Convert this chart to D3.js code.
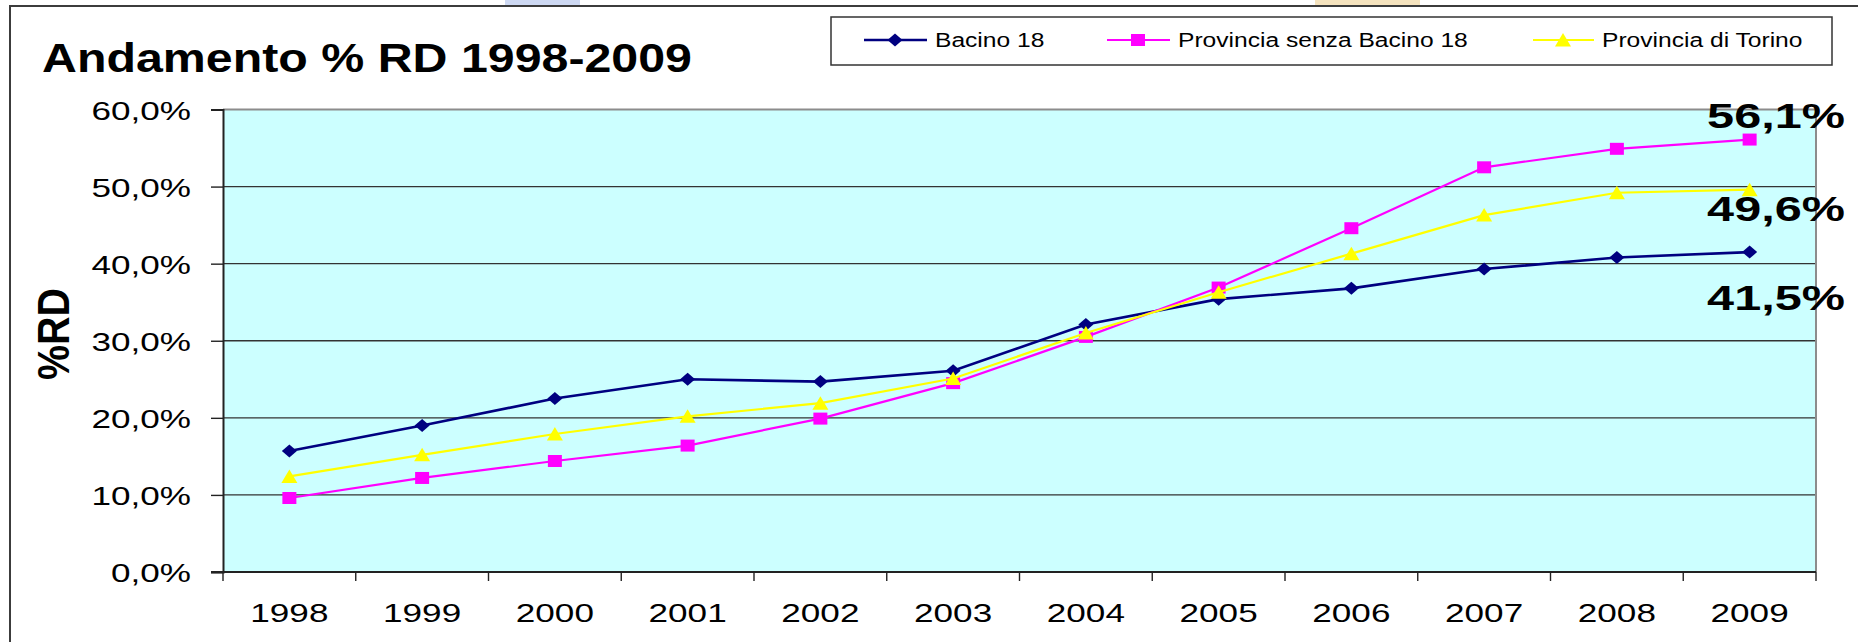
<!DOCTYPE html>
<html>
<head>
<meta charset="utf-8">
<script src="https://cdn.jsdelivr.net/npm/d3@7"></script>
<style>
  html, body { margin: 0; padding: 0; background: #ffffff; }
  svg { display: block; font-family: "Liberation Sans", Arial, sans-serif; }
</style>
</head>
<body>
<svg id="chart" width="1858" height="642"></svg>
<script>
// Percentuale di raccolta differenziata, 1998-2009
const years = ["1998","1999","2000","2001","2002","2003","2004","2005","2006","2007","2008","2009"];
const bacino18 = [15.7, 19.0, 22.5, 25.0, 24.7, 26.1, 32.1, 35.4, 36.8, 39.3, 40.8, 41.5];
const provSenzaBacino = [9.6, 12.2, 14.4, 16.4, 19.9, 24.5, 30.5, 36.9, 44.6, 52.5, 54.9, 56.1];
const provTorino = [12.4, 15.2, 17.9, 20.2, 21.9, 25.1, 31.0, 36.3, 41.3, 46.3, 49.2, 49.6];
const seriesNames = ["Bacino 18", "Provincia senza Bacino 18", "Provincia di Torino"];
const yTicks = [0, 10, 20, 30, 40, 50, 60];
const titleText = "Andamento % RD 1998-2009";
const yAxisTitle = "%RD";

const itFmt = d3.formatLocale({ decimal: ",", thousands: ".", grouping: [3], currency: ["€", ""] }).format(".1f");
const pct = v => itFmt(v) + "%";

const svg = d3.select("#chart");
const X_STRETCH = 1.35;

// plot geometry
const plotLeft = 223, plotRight = 1816, plotTop = 109.5, plotBottom = 572;

const x = d3.scaleBand().domain(years).range([plotLeft, plotRight]).padding(0);
const y = d3.scaleLinear().domain([0, 60]).range([plotBottom, plotTop]);
const cx = d => x(d) + x.bandwidth() / 2;

// decorative header strips
svg.append("rect").attr("x", 505).attr("y", 0).attr("width", 75).attr("height", 5)
  .attr("fill", "#b9c9ee").attr("opacity", 0.7);
svg.append("rect").attr("x", 1315).attr("y", 0).attr("width", 105).attr("height", 5)
  .attr("fill", "#f1d7a3").attr("opacity", 0.7);

// chart frame
svg.append("rect").attr("x", 10).attr("y", 6).attr("width", 1900).attr("height", 700)
  .attr("fill", "none").attr("stroke", "#3c3c3c").attr("stroke-width", 2);

// title
svg.append("text").attr("x", 42).attr("y", 72)
  .attr("font-size", 40).attr("font-weight", "bold").attr("fill", "#000")
  .attr("textLength", 650).attr("lengthAdjust", "spacingAndGlyphs")
  .text(titleText);

// plot background
svg.append("rect").attr("x", plotLeft).attr("y", plotTop)
  .attr("width", plotRight - plotLeft).attr("height", plotBottom - plotTop)
  .attr("fill", "#CCFFFF");

// gridlines
svg.append("g").selectAll("line")
  .data(yTicks.filter(t => t > 0 && t < 60))
  .join("line")
  .attr("x1", plotLeft).attr("x2", plotRight)
  .attr("y1", d => y(d)).attr("y2", d => y(d))
  .attr("stroke", "#333").attr("stroke-width", 1.4);

// top and right border of the plot area
svg.append("path")
  .attr("d", `M${plotLeft},${y(60)}H${plotRight}V${plotBottom}`)
  .attr("fill", "none").attr("stroke", "#8c8c8c").attr("stroke-width", 2);

// y axis
const yAxis = svg.append("g").attr("transform", `translate(${plotLeft},0)`)
  .call(d3.axisLeft(y).tickValues(yTicks).tickSize(12).tickFormat(pct));
yAxis.select(".domain").attr("stroke", "#222").attr("stroke-width", 2);
yAxis.selectAll(".tick line").attr("stroke", "#222").attr("stroke-width", 1.4);
yAxis.selectAll(".tick text")
  .attr("x", null).attr("dy", null)
  .attr("transform", `translate(-32,9.5) scale(${X_STRETCH},1)`)
  .attr("text-anchor", "end")
  .attr("font-size", 26).attr("fill", "#000")
  .attr("font-family", "'Liberation Sans', Arial, sans-serif");

// x axis
const xAxis = svg.append("g").attr("transform", `translate(0,${plotBottom})`)
  .call(d3.axisBottom(x).tickSize(0));
xAxis.select(".domain").remove();
xAxis.selectAll(".tick text")
  .attr("y", null).attr("dy", null)
  .attr("transform", `translate(0,50) scale(${X_STRETCH},1)`)
  .attr("font-size", 26).attr("fill", "#000")
  .attr("font-family", "'Liberation Sans', Arial, sans-serif");
svg.append("line").attr("x1", plotLeft - 12).attr("x2", plotRight)
  .attr("y1", plotBottom).attr("y2", plotBottom)
  .attr("stroke", "#222").attr("stroke-width", 2);
// category boundary ticks
const bounds = years.map(d => x(d)).concat([x(years[years.length - 1]) + x.bandwidth()]);
svg.append("g").selectAll("line").data(bounds).join("line")
  .attr("x1", d => d).attr("x2", d => d)
  .attr("y1", plotBottom).attr("y2", plotBottom + 9)
  .attr("stroke", "#222").attr("stroke-width", 1.4);

// y axis title
svg.append("text")
  .attr("transform", "translate(53,334) scale(1.1,1) rotate(-90)")
  .attr("text-anchor", "middle").attr("dy", "0.36em")
  .attr("font-size", 40).attr("font-weight", "bold")
  .attr("textLength", 92).attr("lengthAdjust", "spacingAndGlyphs")
  .text(yAxisTitle);

// marker shapes
const shapes = {
  diamond: "M0,-6.5L7.5,0L0,6.5L-7.5,0Z",
  square: "M-7,-6H7V6H-7Z",
  triangle: "M0,-7L8,6.5H-8Z"
};

const series = [
  { name: seriesNames[0], values: bacino18, color: "#000080", width: 2.6, shape: "diamond" },
  { name: seriesNames[1], values: provSenzaBacino, color: "#FF00FF", width: 2.2, shape: "square" },
  { name: seriesNames[2], values: provTorino, color: "#FFFF00", width: 2.2, shape: "triangle" }
];

const line = d3.line().x(d => cx(d.year)).y(d => y(d.value));

series.forEach(s => {
  const pts = years.map((yr, i) => ({ year: yr, value: s.values[i] }));
  svg.append("path").datum(pts)
    .attr("d", line).attr("fill", "none")
    .attr("stroke", s.color).attr("stroke-width", s.width);
  svg.append("g").selectAll("path").data(pts).join("path")
    .attr("d", shapes[s.shape])
    .attr("transform", d => `translate(${cx(d.year)},${y(d.value)})`)
    .attr("fill", s.color);
});

// end-of-series value labels
const endLabelOffsets = [58, -12, 31.5];
series.forEach((s, i) => {
  const last = s.values[s.values.length - 1];
  svg.append("text")
    .attr("transform", `translate(1776,${y(last) + endLabelOffsets[i]}) scale(${X_STRETCH},1)`)
    .attr("text-anchor", "middle")
    .attr("font-size", 36).attr("font-weight", "bold").attr("fill", "#000")
    .text(pct(last));
});

// legend
svg.append("rect").attr("x", 831).attr("y", 17).attr("width", 1001).attr("height", 48)
  .attr("fill", "#fff").attr("stroke", "#333").attr("stroke-width", 1.5);
const legendItems = [
  { x1: 864, x2: 927, mx: 895, tx: 935 },
  { x1: 1107, x2: 1170, mx: 1138, tx: 1178 },
  { x1: 1533, x2: 1594, mx: 1563, tx: 1602 }
];
series.forEach((s, i) => {
  const L = legendItems[i];
  svg.append("line").attr("x1", L.x1).attr("x2", L.x2).attr("y1", 40).attr("y2", 40)
    .attr("stroke", s.color).attr("stroke-width", s.width);
  svg.append("path").attr("d", shapes[s.shape])
    .attr("transform", `translate(${L.mx},40)`).attr("fill", s.color);
  svg.append("text")
    .attr("transform", `translate(${L.tx},47) scale(1.23,1)`)
    .attr("font-size", 20).attr("fill", "#000")
    .text(s.name);
});
</script>
</body>
</html>
